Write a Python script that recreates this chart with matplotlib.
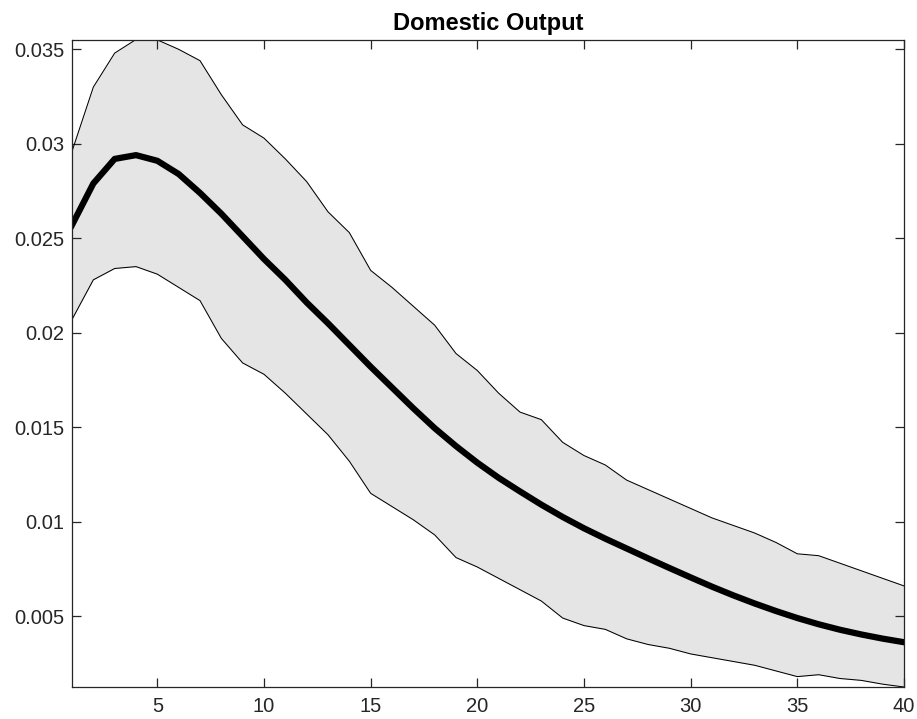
import matplotlib.pyplot as plt

# horizons 1..40
horizon = list(range(1, 41))

# median response
mean_resp = [0.0257, 0.0279, 0.0292, 0.0294, 0.0291, 0.0284, 0.0274, 0.0263, 0.0251, 0.0239,
             0.0228, 0.0216, 0.0205, 0.01935, 0.0182, 0.0171, 0.0160, 0.01495, 0.0140, 0.01312,
             0.01232, 0.0116, 0.0109, 0.01025, 0.00965, 0.0091, 0.00858, 0.00806, 0.00755, 0.00705,
             0.00656, 0.0061, 0.00567, 0.00527, 0.0049, 0.00457, 0.00428, 0.00403, 0.00381, 0.00362]

# upper bound of the band
upper = [0.0296, 0.0330, 0.0348, 0.03552, 0.0355, 0.0350, 0.0344, 0.0326, 0.0310, 0.0303,
         0.0292, 0.0280, 0.0264, 0.0253, 0.0233, 0.0224, 0.0214, 0.0204, 0.0189, 0.0180,
         0.0168, 0.0158, 0.0154, 0.0142, 0.0135, 0.0130, 0.0122, 0.0117, 0.0112, 0.0107,
         0.0102, 0.0098, 0.0094, 0.0089, 0.0083, 0.0082, 0.0078, 0.0074, 0.0070, 0.0066]

# lower bound of the band
lower = [0.0207, 0.0228, 0.0234, 0.0235, 0.0231, 0.0224, 0.0217, 0.0197, 0.0184, 0.0178,
         0.0168, 0.0157, 0.0146, 0.0132, 0.0115, 0.0108, 0.0101, 0.0093, 0.0081, 0.0076,
         0.0070, 0.0064, 0.0058, 0.0049, 0.0045, 0.0043, 0.0038, 0.0035, 0.0033, 0.0030,
         0.0028, 0.0026, 0.0024, 0.0021, 0.0018, 0.0019, 0.0017, 0.0016, 0.0014, 0.00125]

xticks = [5, 10, 15, 20, 25, 30, 35, 40]
yticks = [0.005, 0.01, 0.015, 0.02, 0.025, 0.03, 0.035]
yticklabels = ['0.005', '0.01', '0.015', '0.02', '0.025', '0.03', '0.035']

plt.rcParams['font.family'] = ['Liberation Sans', 'DejaVu Sans']

fig = plt.figure(figsize=(9.17, 7.19), dpi=100)
ax = fig.add_axes([72 / 917, 1 - 687 / 719, (904 - 72) / 917, (687 - 39.5) / 719])

ax.fill_between(horizon, lower, upper, color='#e5e5e5', lw=0)
ax.plot(horizon, upper, color='black', lw=0.75)
ax.plot(horizon, lower, color='black', lw=0.75)
ax.plot(horizon, mean_resp, color='black', lw=4.5, solid_joinstyle='round')

ax.set_xlim(1, 40)
ax.set_ylim(min(lower), max(upper))
ax.set_xticks(xticks)
ax.set_yticks(yticks)
ax.set_yticklabels(yticklabels)

for s in ax.spines.values():
    s.set_color('#262626')
    s.set_linewidth(0.9)
ax.tick_params(direction='in', length=6.5, width=0.9, color='#262626',
               labelcolor='#262626', labelsize=14.5, top=True, right=True)
ax.tick_params(axis='x', pad=7)
ax.tick_params(axis='y', pad=5.5)

ax.set_title('Domestic Output', fontsize=17, fontweight='bold', pad=6.5)

fig.savefig('out.png', dpi=100)
